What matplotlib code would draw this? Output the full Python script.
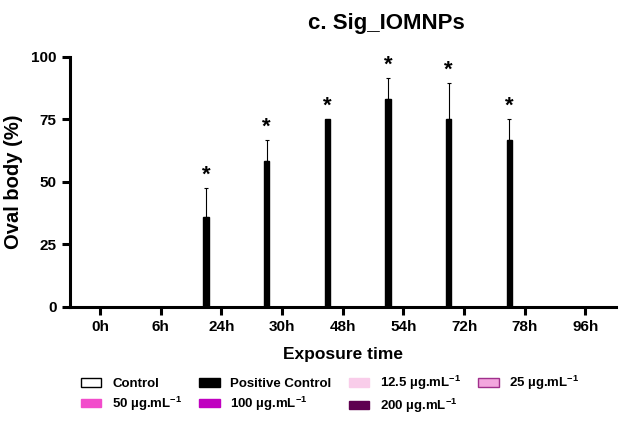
import matplotlib.pyplot as plt
import numpy as np

plt.rcParams['font.family'] = ['Liberation Sans', 'DejaVu Sans']
plt.rcParams['mathtext.fontset'] = 'custom'
plt.rcParams['mathtext.rm'] = 'Liberation Sans:bold'
plt.rcParams['mathtext.default'] = 'rm'

# --- data ---
time_labels = ['0h', '6h', '24h', '30h', '48h', '54h', '72h', '78h', '96h']
series_names = ['Control', 'Positive Control', '12.5 µg.mL$^{-1}$', '25 µg.mL$^{-1}$',
                '50 µg.mL$^{-1}$', '100 µg.mL$^{-1}$', '200 µg.mL$^{-1}$']
control = [0, 0, 0, 0, 0, 0, 0, 0, 0]
positive = [0, 0, 36.0, 58.3, 75.0, 83.3, 75.0, 66.7, 0]
positive_sd = [0, 0, 11.5, 8.3, 0, 8.3, 14.4, 8.3, 0]
c12_5 = [0, 0, 0, 0, 0, 0, 0, 0, 0]
c25 = [0, 0, 0, 0, 0, 0, 0, 0, 0]
c50 = [0, 0, 0, 0, 0, 0, 0, 0, 0]
c100 = [0, 0, 0, 0, 0, 0, 0, 0, 0]
c200 = [0, 0, 0, 0, 0, 0, 0, 0, 0]
significant = [False, False, True, True, True, True, True, True, False]

face_colors = ['white', 'black', '#F9CDEA', '#F3A6DE', '#F24CCB', '#C000C0', '#5E0050']
edge_colors = ['black', 'black', '#F9CDEA', '#A0308C', '#F24CCB', '#C000C0', '#5E0050']
all_series = [control, positive, c12_5, c25, c50, c100, c200]

fig = plt.figure(figsize=(6.29, 4.21), dpi=100)
ax = fig.add_axes([0.111, 0.271, 0.868, 0.594])

x = np.arange(len(time_labels))
slot = 0.128
bw = 0.09
handles = []
for i, vals in enumerate(all_series):
    off = (i - 3) * slot
    err = positive_sd if i == 1 else None
    b = ax.bar(x + off, vals, bw, color=face_colors[i], edgecolor=edge_colors[i],
               linewidth=1, label=series_names[i])
    handles.append(b)
    if err is not None:
        for xi, v, e in zip(x + off, vals, err):
            if v > 0 and e > 0:
                ax.errorbar(xi, v, yerr=[[0], [e]], fmt='none', ecolor='black',
                            elinewidth=0.8, capsize=1.2, capthick=0.8)

# asterisks
for xi, v, e, s in zip(x - 2 * slot, positive, positive_sd, significant):
    if s:
        ax.text(xi, v + e + 1, '*', ha='center', va='bottom', fontsize=16,
                fontweight='bold')

ax.set_xlim(-0.5, 8.5)
ax.set_ylim(0, 100)
ax.set_yticks([0, 25, 50, 75, 100])
ax.set_xticks(x)
ax.set_xticklabels(time_labels)
for s in ['top', 'right']:
    ax.spines[s].set_visible(False)
for s in ['left', 'bottom']:
    ax.spines[s].set_linewidth(2.2)
ax.tick_params(width=2.2, length=6, labelsize=11)
for lab in ax.get_xticklabels() + ax.get_yticklabels():
    lab.set_fontweight('bold')

ax.set_ylabel('Oval body (%)', fontsize=14.5, fontweight='bold', labelpad=6)
ax.set_xlabel('Exposure time', fontsize=12.5, fontweight='bold', labelpad=9)
fig.text(0.615, 0.945, 'c. Sig_IOMNPs', ha='center', va='center', fontsize=16,
         fontweight='bold')

order = [0, 4, 1, 5, 2, 6, 3]
leg = fig.legend([handles[k] for k in order], [series_names[k] for k in order],
                 ncol=4, loc='upper left', bbox_to_anchor=(81 / 629, 0.112),
                 frameon=False, borderpad=0, borderaxespad=0,
                 prop={'weight': 'bold', 'size': 9.5}, handlelength=1.55,
                 handleheight=0.6, columnspacing=1.3, labelspacing=0.35,
                 handletextpad=0.8)

fig.savefig('out.png', dpi=100)
